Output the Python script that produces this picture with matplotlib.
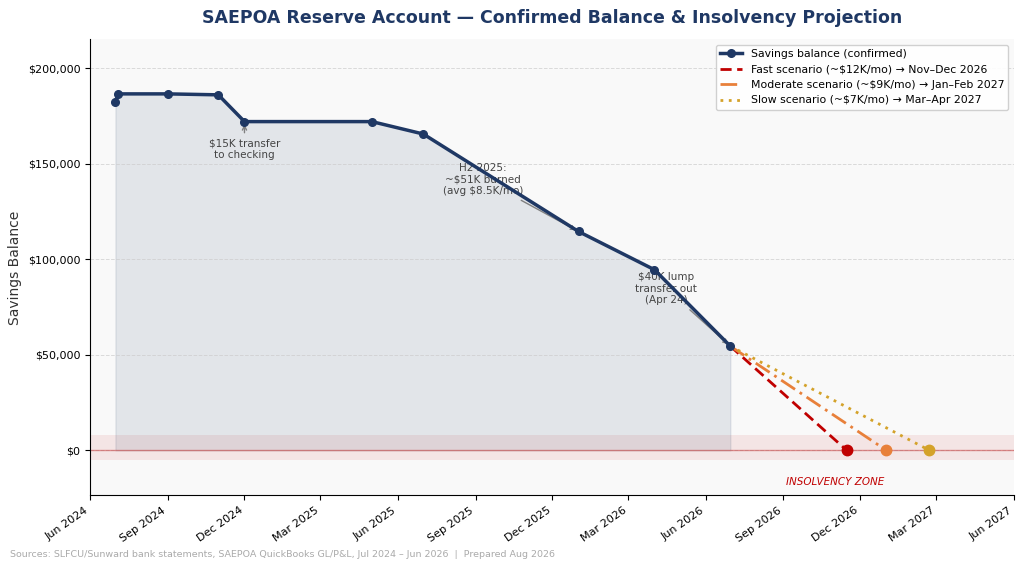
import matplotlib
matplotlib.use("Agg")
import matplotlib.pyplot as plt
import matplotlib.dates as mdates
import pandas as pd

dates = ["2024-07-01","2024-07-04","2024-09-01","2024-10-31","2024-12-01","2025-05-01","2025-07-01","2026-01-01","2026-04-01","2026-06-30"]
balances = [182000,186500,186500,186000,172000,172000,165500,114500,94500,54500]
scen_labels = ["Fast scenario (~$12K/mo) → Nov–Dec 2026","Moderate scenario (~$9K/mo) → Jan–Feb 2027","Slow scenario (~$7K/mo) → Mar–Apr 2027"]
scen_end = ["2026-11-15","2027-01-01","2027-02-21"]
scen_colors = ["#c00000","#e8803a","#d4a22a"]
scen_styles = [(0,(4,2)),(0,(6,2,1,2)),(0,(1,2))]

d = pd.to_datetime(dates)
fig, ax = plt.subplots(figsize=(10.24,5.63), dpi=100)
fig.subplots_adjust(left=0.088, right=0.99, top=0.93, bottom=0.12)
ax.set_facecolor("#f9f9f9")
navy = "#1f3864"
ax.axhspan(-5000, 8000, color="#c00000", alpha=0.08, lw=0)
ax.axhline(0, color="#c00000", alpha=0.4, lw=1)
ax.fill_between(d, balances, 0, color=navy, alpha=0.1)
ax.plot(d, balances, "-o", color=navy, lw=2.5, ms=5.5, label="Savings balance (confirmed)", zorder=5)
for lab, e, c, s in zip(scen_labels, scen_end, scen_colors, scen_styles):
    ax.plot([d[-1], pd.Timestamp(e)], [balances[-1], 0], ls=s, color=c, lw=2, label=lab)
    ax.plot(pd.Timestamp(e), 0, "o", color=c, ms=7.5, zorder=6)

ap = dict(arrowstyle="->", color="gray", lw=1)
ax.annotate("$15K transfer\nto checking", xy=(d[4], balances[4]), xytext=(d[4], 153000), ha="center", fontsize=7.5, color="#444", arrowprops=ap)
ax.annotate("H2 2025:\n~$51K burned\n(avg $8.5K/mo)", xy=(d[7], balances[7]), xytext=(pd.Timestamp("2025-09-10"), 134000), ha="center", fontsize=7.5, color="#444", arrowprops=ap)
ax.annotate("$40K lump\ntransfer out\n(Apr 24)", xy=(d[9], balances[9]), xytext=(pd.Timestamp("2026-04-15"), 77000), ha="center", fontsize=7.5, color="#444", arrowprops=ap)
ax.text(pd.Timestamp("2026-11-01"), -18000, "INSOLVENCY ZONE", color="#c00000", fontsize=7.5, style="italic", ha="center")

ax.set_xlim(pd.Timestamp("2024-06-01"), pd.Timestamp("2027-06-01"))
ax.set_ylim(-23600, 215000)
ax.xaxis.set_major_locator(mdates.MonthLocator(bymonth=[3,6,9,12]))
ax.xaxis.set_major_formatter(mdates.DateFormatter("%b %Y"))
plt.setp(ax.get_xticklabels(), rotation=35, ha="right", fontsize=8)
ax.yaxis.set_major_formatter(matplotlib.ticker.FuncFormatter(lambda v, p: f"${v:,.0f}"))
ax.tick_params(axis="y", labelsize=8)
ax.set_yticks([0,50000,100000,150000,200000])
ax.grid(axis="y", ls="--", color="#ccc", alpha=0.7, lw=0.7)
for sp in ["top","right"]:
    ax.spines[sp].set_visible(False)
ax.set_ylabel("Savings Balance", fontsize=10, color="#333")
ax.set_title("SAEPOA Reserve Account — Confirmed Balance & Insolvency Projection", fontsize=12.5, fontweight="bold", color=navy, pad=12)
ax.legend(loc="upper right", fontsize=7.8, framealpha=0.9)
fig.text(0.01, 0.01, "Sources: SLFCU/Sunward bank statements, SAEPOA QuickBooks GL/P&L, Jul 2024 – Jun 2026  |  Prepared Aug 2026", fontsize=6.8, color="#aaa")
fig.savefig("out.png", dpi=100)
